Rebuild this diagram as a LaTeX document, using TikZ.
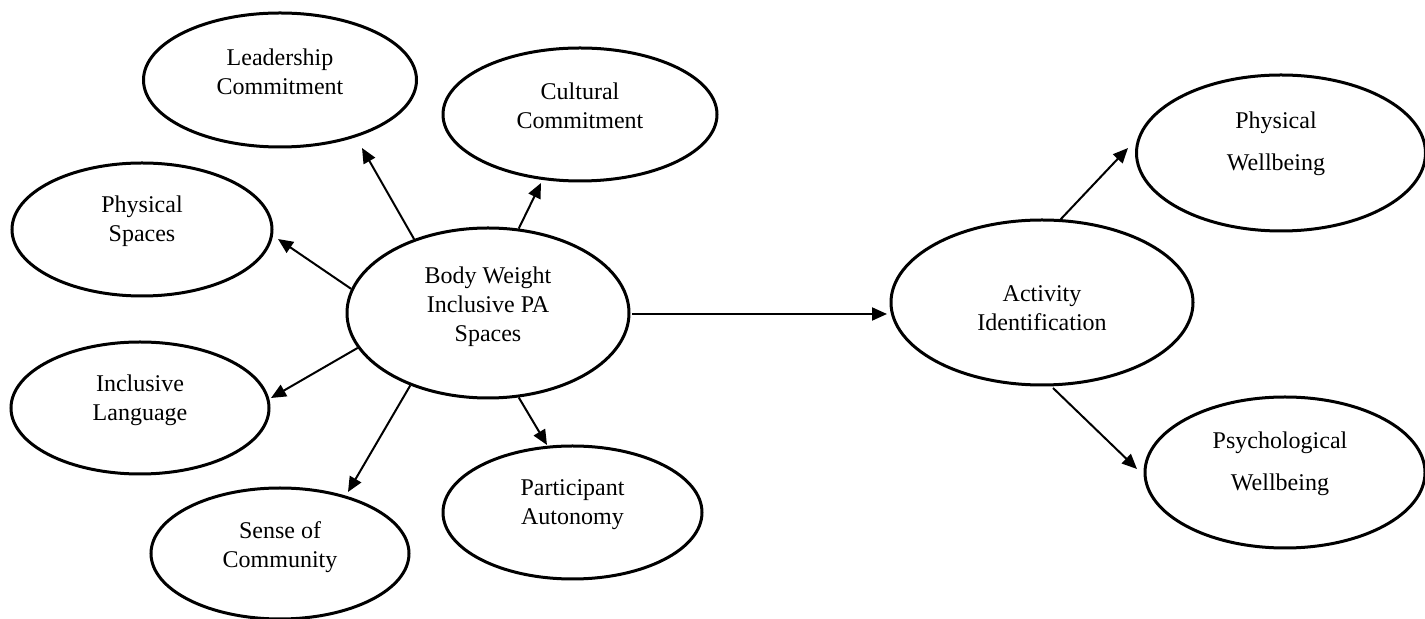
\documentclass[tikz,border=0pt]{standalone}
\usepackage{fontspec}
\setmainfont{Liberation Serif}
\usetikzlibrary{shapes.geometric,arrows.meta}
\tikzset{
  oval/.style={draw=black, line width=1.5pt, ellipse, inner sep=0pt},
  txt/.style={align=center, inner sep=0pt, font=\fontsize{12}{14.5}\selectfont},
  txtwide/.style={align=center, inner sep=0pt, font=\fontsize{12}{21}\selectfont},
  arr/.style={draw=black, line width=1pt, -{Triangle[length=7.5pt,width=6.5pt]}}
}
\begin{document}
\begin{tikzpicture}[x=0.5pt,y=-0.5pt]
\useasboundingbox (0,0) rectangle (1425,619);
% ellipses
\node[oval, minimum width=136.5pt, minimum height=67pt] (LC) at (280,80) {};
\node[oval, minimum width=137pt, minimum height=66.5pt] (CC) at (580,114.5) {};
\node[oval, minimum width=130pt, minimum height=66.5pt] (PS) at (142,229.5) {};
\node[oval, minimum width=141pt, minimum height=85pt] (BW) at (488,313) {};
\node[oval, minimum width=129pt, minimum height=66pt] (IL) at (140,408) {};
\node[oval, minimum width=129pt, minimum height=65.5pt] (SC) at (280,553.5) {};
\node[oval, minimum width=129.5pt, minimum height=66.5pt] (PA) at (572.5,512.5) {};
\node[oval, minimum width=151pt, minimum height=82.5pt] (ACT) at (1042,302.5) {};
\node[oval, minimum width=144.5pt, minimum height=78pt] (PW) at (1281,153) {};
\node[oval, minimum width=140pt, minimum height=75.5pt] (PSY) at (1285,472.5) {};
% texts
\node[txt] (LCt) at (280,72) {Leadership\\Commitment};
\node[txt] (CCt) at (580,106) {Cultural\\Commitment};
\node[txt] (PSt) at (142,221) {Physical\\Spaces};
\node[txt] (BWt) at (488,307) {Body Weight\\Inclusive PA\\Spaces};
\node[txt] (ILt) at (140,400.5) {Inclusive\\Language};
\node[txt] (SCt) at (280,547) {Sense of\\Community};
\node[txt] (PAt) at (572.5,505) {Participant\\Autonomy};
\node[txt] (ACTt) at (1042,308.5) {Activity\\Identification};
\node[txtwide] (PWt) at (1276,143.5) {Physical\\Wellbeing};
\node[txtwide] (PSYt) at (1280,464) {Psychological\\Wellbeing};
% arrow tips
\coordinate (tLC) at (362,148);
\coordinate (tPS) at (278,239);
\coordinate (tCC) at (541,183);
\coordinate (tIL) at (271,398);
\coordinate (tSC) at (348,492);
\coordinate (tPA) at (547,445);
\coordinate (sACT) at (632,314);
\coordinate (tACT) at (887,314);
\coordinate (sPW) at (1060,220);
\coordinate (tPW) at (1128,148);
\coordinate (sPSY) at (1053,388);
\coordinate (tPSY) at (1137,469);
% connectors
\draw[arr] (BW.135.8) -- (tLC);
\draw[arr] (BW.170.5) -- (tPS);
\draw[arr] (BW.70) -- (tCC);
\draw[arr] (BW.195.5) -- (tIL);
\draw[arr] (BW.223.5) -- (tSC);
\draw[arr] (BW.290) -- (tPA);
\draw[arr] (sACT) -- (tACT);
\draw[arr] (sPW) -- (tPW);
\draw[arr] (sPSY) -- (tPSY);
\end{tikzpicture}
\end{document}
